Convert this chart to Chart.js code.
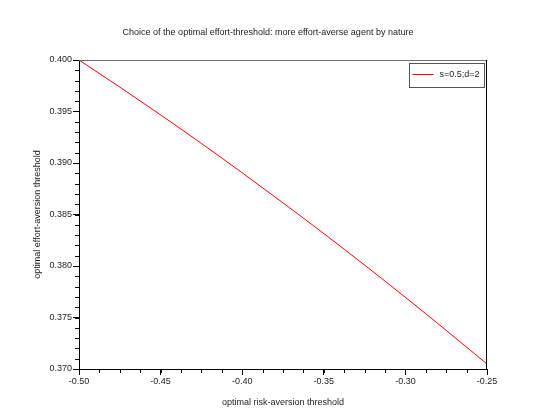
<!DOCTYPE html>
<html>
<head>
<meta charset="utf-8">
<script src="https://cdn.jsdelivr.net/npm/chart.js@4"></script>
<style>
html,body{margin:0;padding:0;background:#fff;}
#wrap{width:550px;height:414px;position:relative;}
</style>
</head>
<body>
<div id="wrap"><canvas id="c" width="550" height="414"></canvas></div>
<script>
const chartTitle = "Choice of the optimal effort-threshold: more effort-averse agent by nature";
const xTitle = "optimal risk-aversion threshold";
const yTitle = "optimal effort-aversion threshold";
const seriesLabel = "s=0.5;d=2";
const riskThreshold = [-0.500, -0.475, -0.450, -0.425, -0.400, -0.375, -0.350, -0.325, -0.300, -0.275, -0.250];
const effortThreshold = [0.40000, 0.39737, 0.39467, 0.39190, 0.38905, 0.38613, 0.38315, 0.38009, 0.37696, 0.37375, 0.37049];
const xMin = -0.50, xMax = -0.25, xMajor = 0.05, xMinor = 0.0125;
const yMin = 0.370, yMax = 0.400, yMajor = 0.005, yMinor = 0.001;

const FONT = "'Liberation Sans', Arial, Helvetica, sans-serif";
const TXT = '#222';

const framePlugin = {
  id: 'frame',
  afterDraw(chart) {
    const ctx = chart.ctx, a = chart.chartArea;
    const xs = chart.scales.x, ys = chart.scales.y;
    ctx.save();
    // top and right frame
    ctx.lineWidth = 1;
    ctx.strokeStyle = '#707070';
    ctx.beginPath();
    ctx.moveTo(a.left, a.top + 0.5); ctx.lineTo(a.right, a.top + 0.5);
    ctx.stroke();
    ctx.strokeStyle = '#000';
    ctx.beginPath();
    ctx.moveTo(a.right - 0.5, a.top); ctx.lineTo(a.right - 0.5, a.bottom);
    ctx.stroke();
    // minor ticks
    ctx.strokeStyle = '#000';
    ctx.beginPath();
    const nx = Math.round((xMax - xMin) / xMinor);
    for (let i = 0; i <= nx; i++) {
      const px = Math.round(xs.getPixelForValue(xMin + i * xMinor)) + 0.5;
      ctx.moveTo(px, a.bottom); ctx.lineTo(px, a.bottom + 4);
    }
    const ny = Math.round((yMax - yMin) / yMinor);
    for (let i = 0; i <= ny; i++) {
      const py = Math.round(ys.getPixelForValue(yMin + i * yMinor)) + 0.5;
      ctx.moveTo(a.left, py); ctx.lineTo(a.left - 4, py);
    }
    ctx.stroke();
    // title
    ctx.fillStyle = TXT;
    ctx.font = '9px ' + FONT;
    ctx.textAlign = 'center';
    ctx.textBaseline = 'middle';
    ctx.fillText(chartTitle, 268, 33);
    // legend
    const lx = 409.5, ly = 63.5, lw = 75, lh = 24;
    ctx.strokeStyle = '#555';
    ctx.lineWidth = 1;
    ctx.strokeRect(lx, ly, lw, lh);
    const ds = chart.data.datasets[0];
    ctx.strokeStyle = ds.borderColor;
    ctx.beginPath();
    ctx.moveTo(lx + 3, ly + 11); ctx.lineTo(lx + 24, ly + 11);
    ctx.stroke();
    ctx.textAlign = 'left';
    ctx.fillStyle = TXT;
    ctx.fillText(ds.label, lx + 30, ly + 11.5);
    ctx.restore();
  }
};

new Chart(document.getElementById('c'), {
  type: 'line',
  data: {
    datasets: [{
      label: seriesLabel,
      data: riskThreshold.map((x, i) => ({x: x, y: effortThreshold[i]})),
      borderColor: '#ff0000',
      borderWidth: 1,
      pointRadius: 0,
      cubicInterpolationMode: 'monotone',
      fill: false
    }]
  },
  options: {
    responsive: false,
    animation: false,
    devicePixelRatio: 1,
    layout: {padding: {top: 60, right: 63, bottom: 0, left: 0}},
    plugins: {legend: {display: false}, title: {display: false}, tooltip: {enabled: false}},
    scales: {
      x: {
        type: 'linear', min: xMin, max: xMax,
        afterFit(s) { s.height = 45; },
        grid: {drawOnChartArea: false, drawTicks: true, tickLength: 6, color: '#000', tickColor: '#000'},
        border: {display: true, color: '#000', width: 1},
        ticks: {stepSize: xMajor, padding: 1, color: TXT, font: {family: FONT, size: 9},
          maxRotation: 0, callback: v => Number(v).toFixed(2)},
        title: {display: true, text: xTitle, color: TXT, font: {family: FONT, size: 9}, padding: {top: 0, bottom: 6}}
      },
      y: {
        type: 'linear', min: yMin, max: yMax,
        afterFit(s) { s.width = 79; },
        grid: {drawOnChartArea: false, drawTicks: true, tickLength: 6, color: '#000', tickColor: '#000'},
        border: {display: true, color: '#000', width: 1},
        ticks: {stepSize: yMajor, padding: 1, color: TXT, font: {family: FONT, size: 9},
          callback: v => Number(v).toFixed(3)},
        title: {display: true, text: yTitle, color: TXT, font: {family: FONT, size: 9}, padding: {top: 32, bottom: 0}}
      }
    }
  },
  plugins: [framePlugin]
});
</script>
</body>
</html>
